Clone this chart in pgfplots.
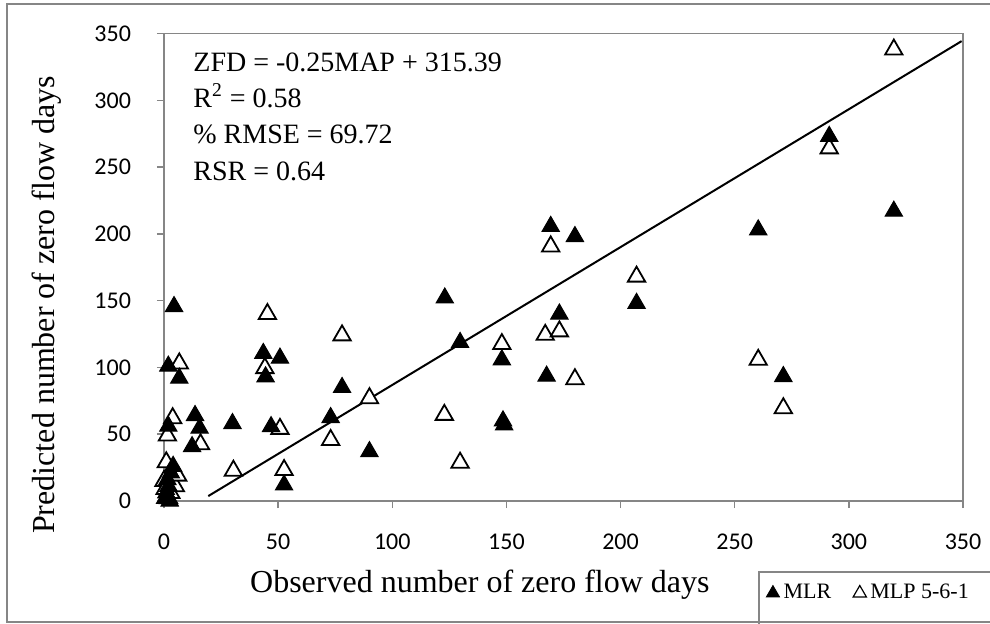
\documentclass[border=0pt]{standalone}
\usepackage{fontspec}
\setmainfont{Liberation Serif}
\newfontfamily\tickfont{Carlito}
\usepackage{pgfplots}
\pgfplotsset{compat=1.18}

\definecolor{framegray}{RGB}{134,134,134}

% Observed vs predicted zero flow days
\pgfplotstableread{
x y
6.7 103
44.2 99.5
45.3 140
78 124
3.8 62
1.5 49
16 42.5
50.8 54
73 45.7
30.4 22.7
52.6 23.2
90 77
122.8 64.5
129.7 28.7
148 117.5
167 124.4
173.2 127
180 91.2
169.4 190.6
207 168
319.7 338
291.4 264
260.3 105.7
271.3 69.5
0 15
1 29
3 6
5 11
2 2
6 19
0.5 9
}\mlpdata

\pgfplotstableread{
x y
1.9 101
6.7 92
4.4 145.6
43.5 110.5
50.8 107
44.5 93
78 85
1.9 56
13.6 64
15.6 54.5
12.3 40.7
30 58
46.9 55.7
73 62.5
52.6 12
90 37
123 152
129.7 118.7
148 105.7
167.6 93.5
148.5 60
149 57
169.4 205.6
180 198
207 148
173.2 140
291.4 273
319.7 217
260.3 203
271.3 93.2
0.5 2
1 6
2 11
1.5 16
3 21
4 26
2.5 0
}\mlrdata

\begin{document}
\begin{tikzpicture}
\useasboundingbox (-82pt,-61pt) rectangle (413pt,250.5pt);
% chart frame and legend box
\draw[framegray, line width=0.9pt] (-78.5pt,-60.5pt) rectangle (430pt,248.5pt);
\draw[framegray, line width=0.9pt] (297.5pt,-35.5pt) rectangle (430pt,-65pt);
\begin{axis}[
  at={(0pt,0pt)}, anchor=south west,
  scale only axis, width=399.5pt, height=233.75pt,
  xmin=0, xmax=350, ymin=0, ymax=350,
  xtick={0,50,...,350}, ytick={0,50,...,350},
  tick align=outside, major tick length=3.5pt,
  xtick pos=left, ytick pos=left,
  axis line style={framegray, line width=0.75pt},
  tick style={framegray, line width=0.75pt},
  ticklabel style={font=\tickfont\fontsize{12}{14}\selectfont},
  /pgf/number format/assume math mode=true,
  xticklabel style={yshift=-9.5pt}, yticklabel style={xshift=-9.5pt},
  clip=false,
  legend columns=2,
  legend style={at={(rel axis cs:0.7534,-0.197)}, anchor=west,
    draw=none, fill=none, inner sep=0pt,
    font=\fontsize{11}{13}\selectfont,
    /tikz/every even column/.append style={column sep=9pt}},
  legend image code/.code={\draw[mark repeat=2,mark phase=2,#1] plot coordinates {(0pt,0pt) (4pt,0pt) (8pt,0pt)};},
]
\addlegendimage{only marks, mark=triangle*, mark size=3.8pt, mark options={fill=black, draw=black}}
\addlegendentry{MLR}
\addlegendimage{only marks, mark=triangle*, mark size=3.8pt, mark options={fill=white, draw=black, line width=0.6pt}}
\addlegendentry{MLP 5-6-1}

\addplot[black, line width=1pt, forget plot] coordinates {(19.4,3.7) (349.4,344.3)};
\addplot[only marks, mark=triangle*, mark size=5pt, forget plot,
  mark options={fill=white, draw=black, line width=0.9pt}] table {\mlpdata};
\addplot[only marks, mark=triangle*, mark size=5pt, forget plot,
  mark options={fill=black, draw=black, line width=0.5pt}] table {\mlrdata};
\end{axis}

% axis titles
\node[font=\fontsize{16}{19}\selectfont, inner sep=0pt, anchor=base east] at (273pt,-45.5pt) {Observed number of zero flow days};
\node[font=\fontsize{16}{19}\selectfont, inner sep=0pt, anchor=base, rotate=90] at (-54.5pt,98pt) {Predicted number of zero flow days};

% regression and fit statistics
\begin{scope}[every node/.style={font=\fontsize{14}{16}\selectfont, inner sep=0pt, anchor=base west}]
\node at (14.5pt,215pt) {ZFD = -0.25MAP + 315.39};
\node at (14.5pt,197pt) {R\textsuperscript{2} = 0.58};
\node at (14.5pt,179pt) {\% RMSE = 69.72};
\node at (14.5pt,160.5pt) {RSR = 0.64};
\end{scope}
\end{tikzpicture}
\end{document}
